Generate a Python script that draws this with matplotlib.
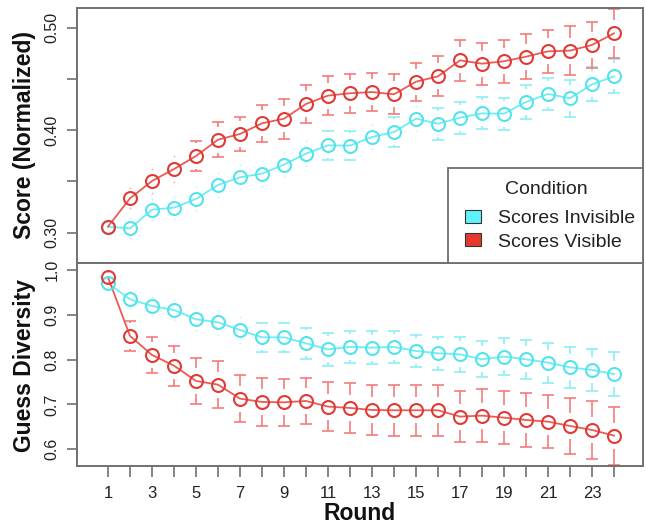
import numpy as np
import matplotlib
matplotlib.use("Agg")
import matplotlib.pyplot as plt
from matplotlib.patches import Rectangle

plt.rcParams['font.family'] = ['Liberation Sans', 'DejaVu Sans']

# ---------------- data ----------------
rounds = [1, 2, 3, 4, 5, 6, 7, 8, 9, 10, 11, 12, 13, 14, 15, 16, 17, 18, 19, 20, 21, 22, 23, 24]

score_visible = [0.3059, 0.3335, 0.3504, 0.3621, 0.3748, 0.3907, 0.3963, 0.4067, 0.4112, 0.4256,
                 0.4337, 0.4360, 0.4372, 0.4350, 0.4473, 0.4525, 0.4681, 0.4649, 0.4672, 0.4717,
                 0.4769, 0.4776, 0.4831, 0.4945]
score_visible_ci = [0.0068, 0.0098, 0.0114, 0.0124, 0.0151, 0.0170, 0.0169, 0.0179, 0.0195, 0.0185,
                    0.0190, 0.0190, 0.0188, 0.0195, 0.0185, 0.0195, 0.0202, 0.0205, 0.0208, 0.0218,
                    0.0208, 0.0241, 0.0224, 0.0239]

score_invisible = [0.3059, 0.3042, 0.3224, 0.3244, 0.3329, 0.3465, 0.3540, 0.3576, 0.3664, 0.3771,
                   0.3852, 0.3849, 0.3933, 0.3982, 0.4112, 0.4063, 0.4122, 0.4164, 0.4161, 0.4275,
                   0.4353, 0.4311, 0.4447, 0.4525]
score_invisible_ci = [0.0068, 0.0098, 0.0102, 0.0107, 0.0112, 0.0117, 0.0117, 0.0120, 0.0122, 0.0124,
                      0.0143, 0.0143, 0.0117, 0.0146, 0.0122, 0.0156, 0.0156, 0.0156, 0.0156, 0.0166,
                      0.0156, 0.0182, 0.0166, 0.0166]

div_visible = [0.9836, 0.8528, 0.8104, 0.7866, 0.7524, 0.7442, 0.7130, 0.7056, 0.7048, 0.7078,
               0.6952, 0.6922, 0.6877, 0.6870, 0.6870, 0.6870, 0.6729, 0.6751, 0.6706, 0.6654,
               0.6617, 0.6520, 0.6431, 0.6305]
div_visible_ci = [0.0112, 0.0342, 0.0394, 0.0446, 0.0520, 0.0528, 0.0528, 0.0535, 0.0528, 0.0520,
                  0.0550, 0.0558, 0.0550, 0.0565, 0.0572, 0.0572, 0.0572, 0.0587, 0.0595, 0.0602,
                  0.0595, 0.0617, 0.0639, 0.0647]

div_invisible = [0.9703, 0.9346, 0.9197, 0.9108, 0.8900, 0.8833, 0.8662, 0.8498, 0.8498, 0.8364,
                 0.8230, 0.8283, 0.8268, 0.8283, 0.8193, 0.8141, 0.8119, 0.8007, 0.8067, 0.8007,
                 0.7933, 0.7829, 0.7770, 0.7680]
div_invisible_ci = [0.0089, 0.0186, 0.0201, 0.0223, 0.0245, 0.0280, 0.0283, 0.0327, 0.0327, 0.0349,
                    0.0372, 0.0364, 0.0364, 0.0364, 0.0364, 0.0372, 0.0394, 0.0401, 0.0416, 0.0431,
                    0.0446, 0.0461, 0.0468, 0.0498]

top_ticks = [0.30, 0.35, 0.40, 0.45, 0.50]
top_ticklabels = ['0.30', '', '0.40', '', '0.50']
bot_ticks = [0.6, 0.7, 0.8, 0.9, 1.0]
bot_ticklabels = ['0.6', '0.7', '0.8', '0.9', '1.0']
x_ticklabels = [str(r) if r % 2 == 1 else '' for r in rounds]

legend_title = 'Condition'
conditions = ['Scores Invisible', 'Scores Visible']

# ---------------- styles ----------------
W, H = 646, 531
RED_LINE = '#EC5A55'
RED_PT = '#E03A35'
RED_ERR = '#F27C7C'
CYAN_LINE = '#6DEDF5'
CYAN_PT = '#52E3EE'
CYAN_ERR = '#8DEFF5'
LEG_FILLS = ['#5EF3FA', '#E5392E']
BOX = '#707070'
TXT = '#222222'
GAP_PX = 13.0

fig = plt.figure(figsize=(W / 100, H / 100), dpi=100)
L, R = 77, 643
ax1 = fig.add_axes([L / W, 1 - 263 / H, (R - L) / W, (263 - 8) / H])
ax2 = fig.add_axes([L / W, 1 - 466 / H, (R - L) / W, (466 - 263) / H])

ax1.set_xlim(-0.41, 25.32)
ax2.set_xlim(-0.41, 25.32)
ax1.set_ylim(0.2704, 0.5192)
ax2.set_ylim(0.5627, 1.0156)


def draw_ci(ax, x, y, ci, color, axes_h_px):
    lo, hi = ax.get_ylim()
    gap = GAP_PX * (hi - lo) / axes_h_px
    for xi, yi, ci_i in zip(x, y, ci):
        if ci_i > gap + 0.5 * (hi - lo) / axes_h_px:
            ax.vlines([xi, xi], [yi + gap, yi - ci_i], [yi + ci_i, yi - gap],
                      colors=color, lw=1.2, zorder=2)
            ax.plot([xi, xi], [yi + ci_i, yi - ci_i], ls='none', marker='_',
                    ms=8.5, mew=1.2, color=color, zorder=2)
        else:
            ax.plot([xi, xi], [yi + ci_i, yi - ci_i], ls='none', marker='o',
                    ms=1.3, mew=0, color=color, alpha=0.6, zorder=2)


h1 = 263 - 8
h2 = 466 - 263
draw_ci(ax1, rounds, score_invisible, score_invisible_ci, CYAN_ERR, h1)
draw_ci(ax1, rounds, score_visible, score_visible_ci, RED_ERR, h1)
draw_ci(ax2, rounds, div_invisible, div_invisible_ci, CYAN_ERR, h2)
draw_ci(ax2, rounds, div_visible, div_visible_ci, RED_ERR, h2)

for ax, yi, yv in [(ax1, score_invisible, score_visible), (ax2, div_invisible, div_visible)]:
    ax.plot(rounds, yi, color=CYAN_LINE, lw=1.3, zorder=3)
    ax.plot(rounds, yi, ls='none', marker='o', ms=9.3, mfc='none', mec=CYAN_PT, mew=1.5, zorder=4)
    ax.plot(rounds, yv, color=RED_LINE, lw=1.3, zorder=3)
    ax.plot(rounds, yv, ls='none', marker='o', ms=9.3, mfc='none', mec=RED_PT, mew=1.5, zorder=4)
    for s in ax.spines.values():
        s.set_color(BOX)
        s.set_linewidth(1.4)

# y axes
ax1.set_yticks(top_ticks)
ax1.set_yticklabels(top_ticklabels)
ax2.set_yticks(bot_ticks)
ax2.set_yticklabels(bot_ticklabels)
for ax in (ax1, ax2):
    ax.tick_params(axis='y', length=7.5, width=1.2, color=BOX, pad=5, labelsize=11.5,
                   labelcolor=TXT)
    for lab in ax.get_yticklabels():
        lab.set_rotation(90)
        lab.set_va('center')

# x axes
ax1.set_xticks([])
ax2.set_xticks(rounds)
ax2.set_xticklabels(x_ticklabels)
ax2.tick_params(axis='x', length=8, width=1.2, color=BOX, pad=6.5, labelsize=12,
                labelcolor=TXT)

fig.text(25 / W, 1 - 135 / H, 'Score (Normalized)', rotation=90, ha='center', va='center',
         fontsize=16.5, fontweight='bold', color='#111111')
fig.text(25 / W, 1 - 365 / H, 'Guess Diversity', rotation=90, ha='center', va='center',
         fontsize=16.5, fontweight='bold', color='#111111')
fig.text(360 / W, 1 - 514 / H, 'Round', ha='center', va='center',
         fontsize=16.5, fontweight='bold', color='#111111')

# ---------------- legend (bottom-right of the top panel) ----------------
def px_rect(x0, y0, x1, y1, **kw):
    r = Rectangle((x0 / W, 1 - y1 / H), (x1 - x0) / W, (y1 - y0) / H,
                  transform=fig.transFigure, **kw)
    fig.add_artist(r)
    return r

px_rect(448, 168, 643, 263, facecolor='white', edgecolor=BOX, lw=1.3, zorder=10)
fig.text(546 / W, 1 - 194 / H, legend_title, ha='center', va='baseline',
         fontsize=14, color=TXT, zorder=11)
entry_base = [223.3, 246.5]
for lab, fill, yb in zip(conditions, LEG_FILLS, entry_base):
    px_rect(465, yb - 13.3, 480.7, yb - 0.7, facecolor=fill, edgecolor='#333333',
            lw=0.8, zorder=11)
    fig.text(498 / W, 1 - yb / H, lab, ha='left', va='baseline', fontsize=14,
             color=TXT, zorder=11)

fig.savefig('out.png', dpi=100)
